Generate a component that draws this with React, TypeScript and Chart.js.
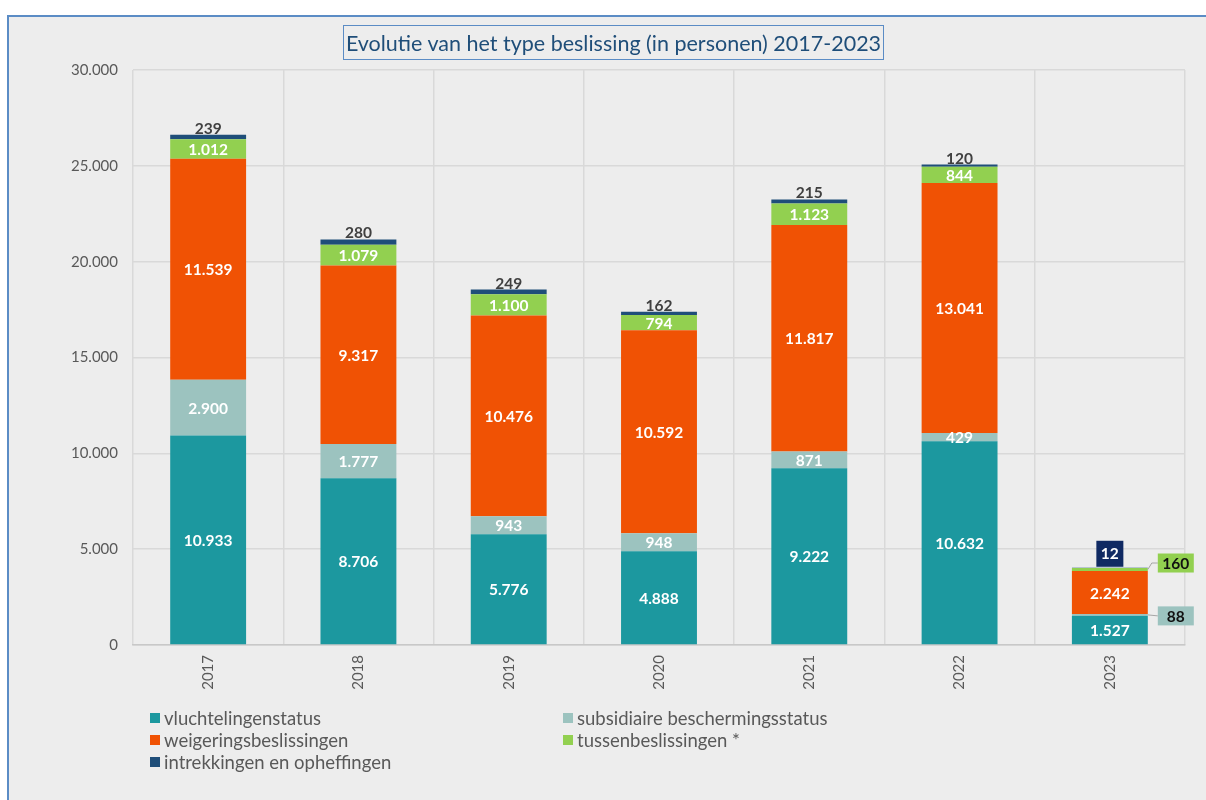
import React, { useEffect, useRef } from 'react';
import { Chart, registerables } from 'chart.js';

Chart.register(...registerables);

const categories = ['2017', '2018', '2019', '2020', '2021', '2022', '2023'];
const vluchtelingenstatus = [10933, 8706, 5776, 4888, 9222, 10632, 1527];
const subsidiair = [2900, 1777, 943, 948, 871, 429, 88];
const weigeringen = [11539, 9317, 10476, 10592, 11817, 13041, 2242];
const tussenbeslissingen = [1012, 1079, 1100, 794, 1123, 844, 160];
const intrekkingen = [239, 280, 249, 162, 215, 120, 12];

const seriesNames = [
  'vluchtelingenstatus',
  'subsidiaire beschermingsstatus',
  'weigeringsbeslissingen',
  'tussenbeslissingen *',
  'intrekkingen en opheffingen',
];
const seriesColors = ['#1C989F', '#9CC3BF', '#F05204', '#92D050', '#1F4E79'];

const FONT = 'Lato, "Open Sans", sans-serif';

const fmt = (n: number) => String(n).replace(/\B(?=(\d{3})+(?!\d))/g, '.');

const labelPlugin = {
  id: 'segLabels',
  afterDatasetsDraw(chart: any) {
    const ctx = chart.ctx;
    const last = categories.length - 1;
    ctx.save();
    ctx.font = `bold 15.5px ${FONT}`;
    ctx.textAlign = 'center';
    chart.data.datasets.forEach((ds: any, di: number) => {
      const meta = chart.getDatasetMeta(di);
      meta.data.forEach((el: any, i: number) => {
        const v = ds.data[i];
        const text = fmt(v);
        const { x, y, base, width } = el.getProps(['x', 'y', 'base', 'width'], true);
        const mid = (y + base) / 2;
        if (i === last && (di === 1 || di === 3 || di === 4)) {
          const right = x + width / 2;
          if (di === 4) {
            const bw = 27, bh = 26;
            ctx.fillStyle = '#102A63';
            ctx.fillRect(x - bw / 2, y - bh - 1, bw, bh);
            ctx.fillStyle = '#FFFFFF';
            ctx.textBaseline = 'middle';
            ctx.fillText(text, x, y - bh / 2 - 1);
          } else {
            const by = di === 3 ? y - 5 : mid + 1;
            const bx = right + 10;
            const bw = 36, bh = 19;
            ctx.strokeStyle = '#A6A6A6';
            ctx.lineWidth = 1;
            ctx.beginPath();
            if (di === 3) {
              ctx.moveTo(right, mid);
              ctx.lineTo(right + 4, by);
              ctx.lineTo(bx, by);
            } else {
              ctx.moveTo(right, mid);
              ctx.lineTo(bx, by);
            }
            ctx.stroke();
            ctx.fillStyle = seriesColors[di];
            ctx.fillRect(bx, by - bh / 2, bw, bh);
            ctx.fillStyle = '#111111';
            ctx.textBaseline = 'middle';
            ctx.fillText(text, bx + bw / 2, by + 1);
          }
          return;
        }
        if (di === 4) {
          ctx.fillStyle = '#404040';
          ctx.textBaseline = 'alphabetic';
          ctx.fillText(text, x, y - 1);
        } else {
          ctx.fillStyle = '#FFFFFF';
          ctx.textBaseline = 'middle';
          ctx.fillText(text, x, mid + 1);
        }
      });
    });
    ctx.restore();
  },
};

export default function App() {
  const ref = useRef<HTMLCanvasElement>(null);
  useEffect(() => {
    if (!ref.current) return;
    const dataArrays = [vluchtelingenstatus, subsidiair, weigeringen, tussenbeslissingen, intrekkingen];
    const chart = new Chart(ref.current, {
      type: 'bar',
      data: {
        labels: categories,
        datasets: dataArrays.map((d, i) => ({
          label: seriesNames[i],
          data: d,
          backgroundColor: seriesColors[i],
          borderWidth: 0,
          categoryPercentage: 1,
          barPercentage: 0.505,
        })),
      },
      options: {
        responsive: false,
        animation: false,
        layout: { padding: { top: 70, right: 21, left: 0, bottom: 0 } },
        plugins: {
          legend: { display: false },
          title: { display: false },
          tooltip: { enabled: false },
        },
        scales: {
          x: {
            stacked: true,
            grid: { offset: true, color: '#D9D9D9', lineWidth: 1.5, drawTicks: false },
            border: { display: true, color: '#C8C8C8', width: 1.5 },
            ticks: {
              minRotation: 90,
              maxRotation: 90,
              color: '#595959',
              padding: 10,
              font: { family: FONT, size: 15 },
            },
            afterFit: (s: any) => {
              s.height = 155;
            },
          },
          y: {
            stacked: true,
            min: 0,
            max: 30000,
            grid: { color: '#D9D9D9', lineWidth: 1.5, drawTicks: false },
            border: { display: false },
            ticks: {
              stepSize: 5000,
              color: '#595959',
              padding: 15,
              font: { family: FONT, size: 15 },
              callback: (v: any) => fmt(Number(v)),
            },
            afterFit: (s: any) => {
              s.width = 133;
            },
          },
        },
      },
      plugins: [labelPlugin],
    });
    return () => chart.destroy();
  }, []);

  const legendItems = [
    { i: 0, x: 150, y: 718 },
    { i: 1, x: 563, y: 718 },
    { i: 2, x: 150, y: 740 },
    { i: 3, x: 563, y: 740 },
    { i: 4, x: 150, y: 762 },
  ];

  return (
    <div style={{ position: 'fixed', left: 0, top: 0, width: 1206, height: 800, background: '#FFFFFF', overflow: 'hidden' }}>
      <div
        style={{
          position: 'absolute',
          left: 7,
          top: 15,
          width: 1199,
          height: 785,
          background: '#EDEDED',
          borderLeft: '2px solid #5B8CC5',
          borderTop: '2px solid #5B8CC5',
          boxSizing: 'border-box',
        }}
      />
      <canvas ref={ref} width={1206} height={800} style={{ position: 'absolute', left: 0, top: 0 }} />
      <div
        style={{
          position: 'absolute',
          left: 343,
          top: 25,
          width: 541,
          height: 35,
          border: '1px solid #5B8CC5',
          boxSizing: 'border-box',
          color: '#1F4E79',
          fontFamily: FONT,
          fontSize: 21.5,
          display: 'flex',
          alignItems: 'center',
          justifyContent: 'center',
          whiteSpace: 'nowrap',
        }}
      >
        Evolutie van het type beslissing (in personen) 2017-2023
      </div>
      {legendItems.map((it) => (
        <div
          key={it.i}
          style={{
            position: 'absolute',
            left: it.x,
            top: it.y - 11,
            height: 22,
            display: 'flex',
            alignItems: 'center',
            fontFamily: FONT,
            fontSize: 18.5,
            color: '#595959',
            whiteSpace: 'nowrap',
          }}
        >
          <span style={{ display: 'inline-block', width: 10, height: 10, background: seriesColors[it.i], marginRight: 4 }} />
          {seriesNames[it.i]}
        </div>
      ))}
    </div>
  );
}
